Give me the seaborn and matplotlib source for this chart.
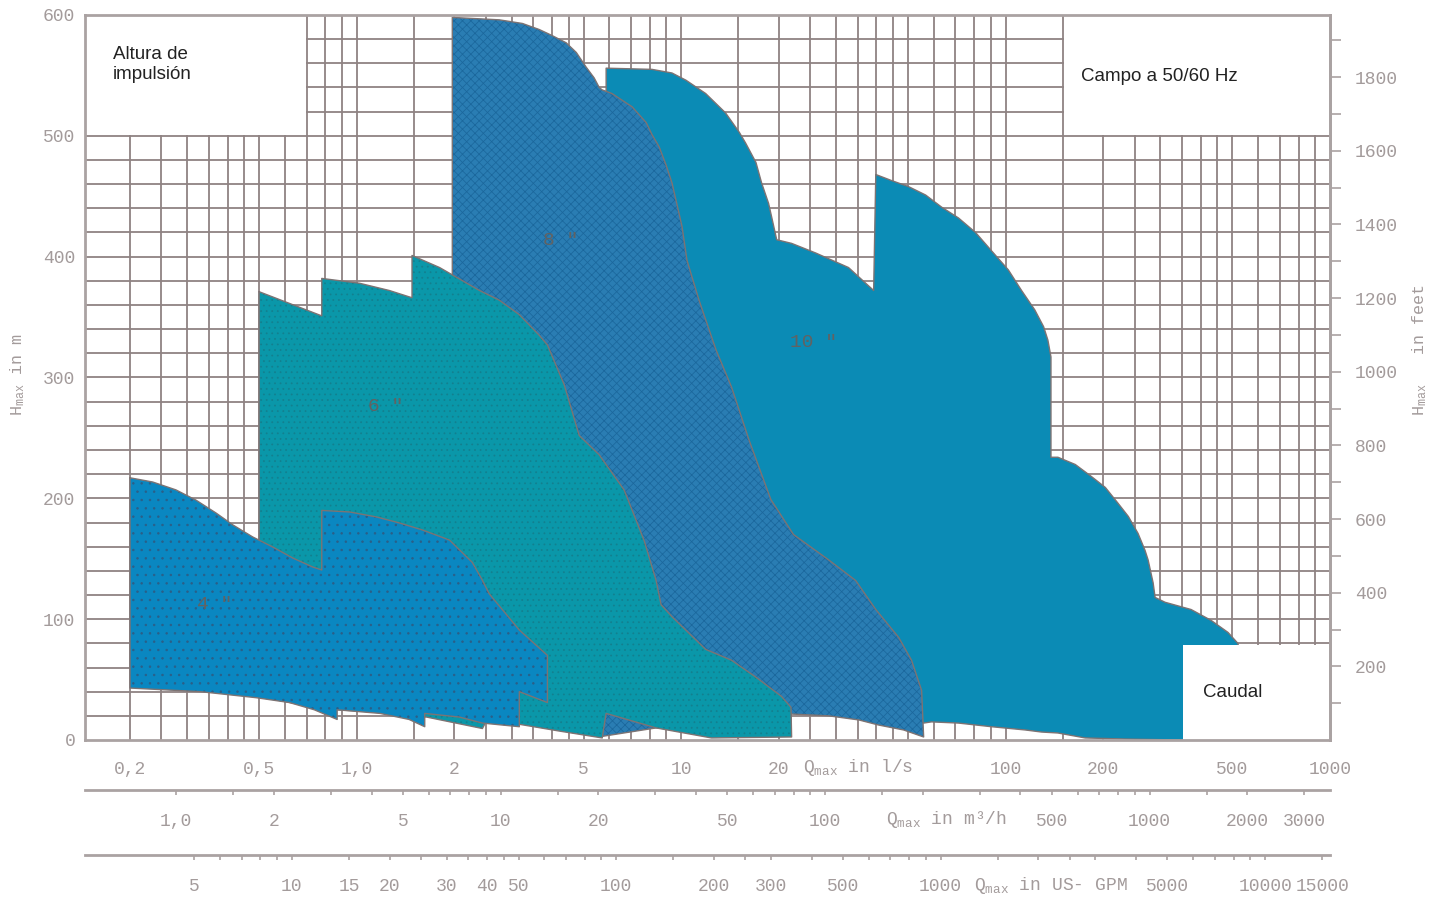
import matplotlib
matplotlib.use('Agg')
import matplotlib.pyplot as plt
import seaborn as sns
from matplotlib.patches import Rectangle
from matplotlib.ticker import NullLocator

# ---- data: flow Q in l/s, head H in m ----
# 4" pumps
q4_up = [0.2, 0.235, 0.277, 0.319, 0.368, 0.415, 0.478, 0.551, 0.635, 0.731, 0.78, 0.78, 0.951, 1.15,
         1.355, 1.594, 1.93, 2.27, 2.43, 2.56, 3.17, 3.87, 3.87]
h4_up = [217, 213.5, 207, 198.6, 187.9, 178, 168, 159.7, 150.6, 143.2, 140.7, 190, 188.7, 184.6,
         179.6, 173.8, 165.5, 147, 133, 121, 91, 70, 31]
q4_lo = [0.2, 0.33, 0.49, 0.62, 0.74, 0.87, 0.87, 1.18, 1.45, 1.62, 1.62, 2.07, 2.44, 3.17, 3.17]
h4_lo = [43, 40, 35, 31, 25, 17, 25, 22, 17, 11, 22, 19, 14, 11, 40]

# 6" pumps
q6_up = [0.5, 0.78, 0.78, 1.02, 1.26, 1.48, 1.48, 1.80, 2.39, 2.75, 3.17, 3.65, 3.87, 4.36, 4.85,
         5.59, 6.67, 7.69, 8.37, 8.67, 9.37, 11.9, 14.3, 17.0, 20.4, 21.8, 21.9]
h6_up = [371, 351, 382, 378, 372, 366, 401, 391, 372, 364, 352, 335, 327, 294, 252,
         236, 207, 165, 132, 112, 102, 75, 66, 52, 36, 27, 2.5]
q6_lo = [0.5, 0.74, 0.87, 1.18, 1.45, 1.64, 2.44, 2.5, 3.17, 4.21, 5.71, 5.87, 8.37, 12.4, 21.9]
h6_lo = [36, 27, 25, 23, 19, 19, 9.5, 15, 13, 7.4, 1.7, 22, 10, 1.7, 2.5]

# 8" pumps
q8_up = [1.97, 1.97, 2.75, 3.24, 3.65, 4.00, 4.42, 4.75, 5.09, 5.39, 5.59, 5.71, 6.12, 7.06, 7.80,
         8.13, 8.55, 8.98, 9.37, 9.71, 10.06, 10.42, 11.35, 12.8, 14.3, 16.2, 18.9, 22.2, 28.5,
         34.5, 39.8, 46.8, 51.3, 55.1, 55.9]
h8_up = [20, 598, 596, 593, 588, 583, 577, 569, 557, 548, 540, 538, 535, 524, 511,
         501, 491, 476, 461, 443, 425, 397, 364, 323, 292, 248, 199, 170, 149,
         132, 108, 85, 66, 41, 2.5]
q8_lo = [1.97, 3.17, 4.21, 5.71, 5.87, 8.37, 12.4, 21.8, 21.8, 28.5, 35.3, 40.6, 48.5, 55.9]
h8_lo = [20, 16, 9, 3, 3.5, 10, 6, 3, 21.5, 20, 16.6, 12.4, 8.3, 2.5]

# 10" pumps
q10_up = [5.87, 5.87, 8.13, 9.37, 10.35, 11.9, 13.7, 15.1, 15.8, 17.0, 17.7, 18.6, 19.0, 19.7,
          21.9, 26.0, 32.8, 39.2, 39.8, 44.5, 50.2, 56.7, 63.5, 71.6, 80.8, 90.4, 102, 112,
          123, 131, 135, 138, 138, 145, 164, 184, 203, 222, 239, 256, 269, 275, 285, 289,
          310, 373, 430, 485, 520, 560]
h10_up = [30, 556, 555, 552, 546, 535, 519, 503, 494, 478, 461, 444, 433, 414,
          411, 403, 391, 372, 468, 463, 458, 451, 441, 432, 420, 405, 389, 372,
          356, 342, 331, 317, 234, 234, 228, 218, 209, 196, 185, 171, 157, 149, 130, 118,
          114, 108, 99, 89, 80, 40]
q10_lo = [5.87, 22, 40, 55.9, 59.1, 71.6, 90.4, 115, 129, 145, 176, 234, 348, 560]
h10_lo = [30, 30, 30, 14, 15, 14, 11, 8.3, 6.6, 5.8, 1.7, 0.8, 0, 0]

region_names = ['4 "', '6 "', '8 "', '10 "']
label_q = [0.365, 1.23, 4.24, 25.6]
label_h = [112, 276, 413, 329]

# axis ticks
ls_ticks = [0.2, 0.5, 1, 2, 5, 10, 20, 100, 200, 500, 1000]
ls_labels = ['0,2', '0,5', '1,0', '2', '5', '10', '20', '100', '200', '500', '1000']
m3h_ticks = [1, 1.5, 2, 3, 4, 5, 6, 7, 8, 9, 10, 15, 20, 30, 40, 50, 60, 70, 80, 90,
             100, 150, 200, 300, 400, 500, 600, 700, 800, 900, 1000, 1500, 2000, 3000]
m3h_labeled = {1: '1,0', 2: '2', 5: '5', 10: '10', 20: '20', 50: '50', 100: '100',
               500: '500', 1000: '1000', 2000: '2000', 3000: '3000'}
gpm_ticks = [5, 6, 7, 8, 9, 10, 15, 20, 25, 30, 35, 40, 45, 50, 60, 70, 80, 90, 100, 150, 200,
             250, 300, 400, 500, 600, 700, 800, 900, 1000, 1500, 2000, 2500, 3000, 4000, 5000,
             6000, 7000, 8000, 9000, 10000, 15000]
gpm_labeled = {5: '5', 10: '10', 15: '15', 20: '20', 30: '30', 40: '40', 50: '50', 100: '100',
               200: '200', 300: '300', 500: '500', 1000: '1000', 5000: '5000',
               10000: '10000', 15000: '15000'}
feet_major = [200, 400, 600, 800, 1000, 1200, 1400, 1600, 1800]
feet_minor = [100, 300, 500, 700, 900, 1100, 1300, 1500, 1700, 1900]

grid_q = [0.2, 0.25, 0.3, 0.35, 0.4, 0.45, 0.5, 0.6, 0.7, 0.8, 0.9,
          1, 1.5, 2, 2.5, 3, 3.5, 4, 4.5, 5, 6, 7, 8, 9,
          10, 15, 20, 25, 30, 35, 40, 45, 50, 60, 70, 80, 90,
          100, 150, 200, 250, 300, 350, 400, 450, 500, 600, 700, 800, 900]
grid_h = list(range(20, 600, 20))

# ---- style ----
sns.set_theme(style='white')
plt.rcParams['font.family'] = ['Liberation Mono', 'DejaVu Sans Mono']
plt.rcParams['mathtext.fontset'] = 'custom'
plt.rcParams['mathtext.rm'] = 'Liberation Mono'
plt.rcParams['mathtext.it'] = 'Liberation Mono'
plt.rcParams['hatch.linewidth'] = 0.55

grid_col = '#8f8282'
spine_col = '#aaa2a2'
lab_col = '#a39b9b'
outline = '#7d7373'
xmin, xmax = 0.1453, 1000

fig = plt.figure(figsize=(14.46, 8.98), dpi=100)
ax = fig.add_axes([85 / 1446, 158 / 898, 1245 / 1446, 725 / 898])
ax.set_xscale('log')

# grid
ax.vlines(grid_q, 0, 600, colors=grid_col, lw=1.3, zorder=0.5)
ax.hlines(grid_h, xmin, xmax, colors=grid_col, lw=1.3, zorder=0.5)

# white boxes holding the captions
ax.add_patch(Rectangle((xmin, 501), 0.695 - xmin, 99, facecolor='white', edgecolor='none', zorder=1))
ax.add_patch(Rectangle((151, 501), xmax - 151, 99, facecolor='white', edgecolor='none', zorder=1))

regions = [
    (q10_up, h10_up, q10_lo, h10_lo, '#0b8bb5', '#0b8bb5', None, 2),
    (q8_up, h8_up, q8_lo, h8_lo, '#2a7db3', '#1b679c', 'xxxx', 3),
    (q6_up, h6_up, q6_lo, h6_lo, '#0a97a9', '#13808f', '...', 4),
    (q4_up, h4_up, q4_lo, h4_lo, '#0a87c1', '#2b5f88', '..', 5),
]
for qu, hu, ql, hl, face, hcol, hatch, z in regions:
    q = list(qu) + list(ql)[::-1]
    h = list(hu) + list(hl)[::-1]
    ax.fill(q, h, facecolor=face, edgecolor=hcol, hatch=hatch, lw=0, zorder=z)
    sns.lineplot(x=q + [q[0]], y=h + [h[0]], sort=False, estimator=None, color=outline,
                 lw=1.0, ax=ax, zorder=z + 0.1, legend=False)

ax.add_patch(Rectangle((352, 0), xmax - 352, 79, facecolor='white', edgecolor='none', zorder=8))

for name, lq, lh in zip(region_names, label_q, label_h):
    ax.text(lq, lh, name, fontsize=14, color='#626262', ha='center', va='center', zorder=9)

ax.set_xlim(xmin, xmax)
ax.set_ylim(0, 600)
ax.set_xlabel('')
ax.set_ylabel('')

ax.set_xticks(ls_ticks, labels=ls_labels)
ax.xaxis.set_minor_locator(NullLocator())
ax.tick_params(axis='x', length=0, pad=15, labelsize=13, labelcolor=lab_col)
ax.set_yticks(range(0, 601, 100))
ax.tick_params(axis='y', length=0, pad=7, labelsize=13, labelcolor=lab_col)
for s in ax.spines.values():
    s.set_color(spine_col)
    s.set_linewidth(2)
    s.set_zorder(10)

# right axis in feet
ax2 = ax.twinx()
ax2.set_ylim(0, 600 / 0.3048)
ax2.set_yticks(feet_major, labels=[str(v) for v in feet_major])
ax2.set_yticks(feet_minor, minor=True)
ax2.tick_params(axis='y', which='both', direction='out', length=8, width=1.2, color=spine_col,
                pad=10, labelsize=13, labelcolor=lab_col)
for k, s in ax2.spines.items():
    s.set_visible(k == 'right')
    s.set_color(spine_col)
    s.set_linewidth(2)

# secondary flow scales
sec1 = ax.secondary_xaxis(-50 / 725, functions=(lambda x: x * 3.6, lambda x: x / 3.6))
sec1.set_xticks(m3h_ticks, labels=[m3h_labeled.get(t, '') for t in m3h_ticks])
sec2 = ax.secondary_xaxis(-115 / 725, functions=(lambda x: x * 15.85, lambda x: x / 15.85))
sec2.set_xticks(gpm_ticks, labels=[gpm_labeled.get(t, '') for t in gpm_ticks])
for sec in (sec1, sec2):
    sec.xaxis.set_minor_locator(NullLocator())
    sec.tick_params(axis='x', direction='out', length=3.5, width=1.2, color=spine_col,
                    pad=13, labelsize=13, labelcolor=lab_col)
    sec.spines['bottom'].set_color(spine_col)
    sec.spines['bottom'].set_linewidth(2)

# axis captions
ax.text(0.577, -0.0386, r'Q$_{max}$ in l/s', transform=ax.transAxes, va='center', ha='left',
        fontsize=13, color=lab_col)
ax.text(0.643, -0.110, r'Q$_{max}$ in m³/h', transform=ax.transAxes, va='center', ha='left',
        fontsize=13, color=lab_col)
ax.text(0.714, -0.200, r'Q$_{max}$ in US- GPM', transform=ax.transAxes, va='center', ha='left',
        fontsize=13, color=lab_col)
fig.text(18 / 1446, 1 - 375 / 898, r'H$_{max}$ in m', rotation=90, ha='center', va='center',
         fontsize=12, color=lab_col)
fig.text(1420 / 1446, 1 - 350 / 898, r'H$_{max}$   in feet', rotation=90, ha='center', va='center',
         fontsize=12, color=lab_col)

# captions in the white boxes
ax.text(0.0225, 0.957, 'Altura de\nimpulsión', transform=ax.transAxes, va='top', ha='left',
        fontsize=13.5, family='Liberation Sans', color='#222222', zorder=11)
ax.text(0.800, 0.9145, 'Campo a 50/60 Hz', transform=ax.transAxes, va='center', ha='left',
        fontsize=13.5, family='Liberation Sans', color='#222222', zorder=11)
ax.text(0.898, 0.0662, 'Caudal', transform=ax.transAxes, va='center', ha='left',
        fontsize=13.5, family='Liberation Sans', color='#222222', zorder=11)

fig.savefig('out.png', dpi=100)
